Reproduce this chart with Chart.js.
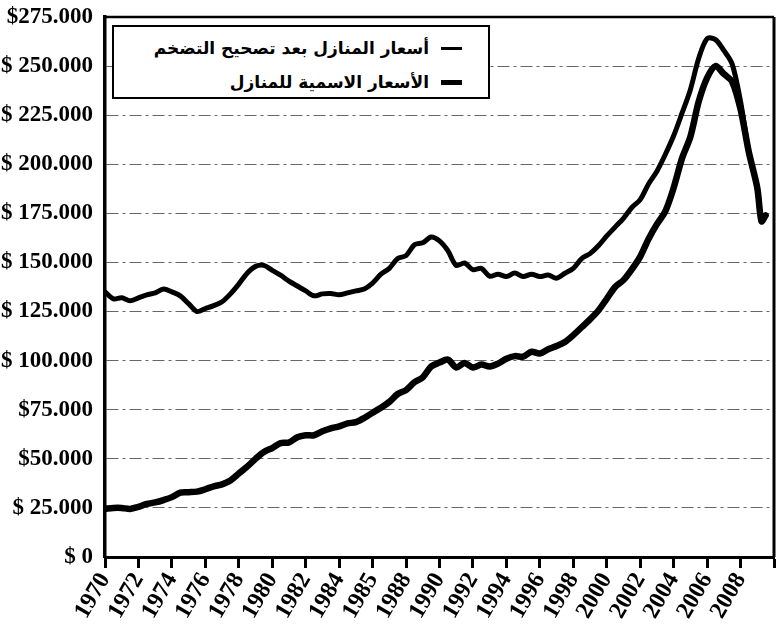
<!DOCTYPE html>
<html>
<head>
<meta charset="utf-8">
<script src="https://cdn.jsdelivr.net/npm/chart.js@4"></script>
<style>
	body { margin: 0; background: #fff; }
	#wrap { position: relative; width: 778px; height: 627px; }
	#legend {
		position: absolute; left: 112px; top: 25px; width: 374px; height: 70px;
		border: 2px solid #000; background: #fff; direction: rtl;
		font-family: "DejaVu Sans", sans-serif; font-weight: bold; font-size: 17px;
	}
	#legend .row { display: flex; align-items: center; height: 30px; margin-top: 4px; padding-right: 26px; }
	#legend .row:first-child { margin-top: 6px; }
	#legend .swatch { width: 21px; background: #000; margin-left: 12px; }
</style>
</head>
<body>
<div id="wrap">
	<canvas id="chart"></canvas>
	<div id="legend"></div>
</div>
<script>
// years (half-year steps, last point early 2009)
const years = [
	1970, 1970.5, 1971, 1971.5, 1972, 1972.5, 1973, 1973.5, 1974, 1974.5,
	1975, 1975.5, 1976, 1976.5, 1977, 1977.5, 1978, 1978.5, 1979, 1979.5,
	1980, 1980.5, 1981, 1981.5, 1982, 1982.5, 1983, 1983.5, 1984, 1984.5,
	1985, 1985.5, 1986, 1986.5, 1987, 1987.5, 1988, 1988.5, 1989, 1989.5,
	1990, 1990.5, 1991, 1991.5, 1992, 1992.5, 1993, 1993.5, 1994, 1994.5,
	1995, 1995.5, 1996, 1996.5, 1997, 1997.5, 1998, 1998.5, 1999, 1999.5,
	2000, 2000.5, 2001, 2001.5, 2002, 2002.5, 2003, 2003.5, 2004, 2004.5,
	2005, 2005.5, 2006, 2006.5, 2007, 2007.5, 2008, 2008.5, 2009, 2009.25, 2009.5
];

// inflation adjusted prices ($ thousands)
const realPrices = [
	135, 131.5, 132, 130.5, 132, 133.5, 134.5, 136.5, 135, 133,
	129, 125, 126.5, 128, 130, 134, 139, 144.5, 148, 148.5,
	146, 143.5, 140.5, 138, 135.5, 133, 134, 134.2, 133.5, 134.5,
	135.5, 136.5, 139.5, 144, 147, 152, 153.5, 159, 160, 163,
	161, 156, 148.5, 149.7, 146.3, 147, 143, 144, 142.8, 144.6,
	142.8, 144, 142.8, 143.6, 142, 144.5, 147, 152, 154.5, 158.5,
	163.5, 168, 172.5, 178, 182, 190, 196.5, 205, 214.5, 226,
	238, 254, 264, 263.5, 258, 251, 232, 206, 188, 171, 174
];

// nominal prices ($ thousands)
const nominalPrices = [
	24.5, 25, 25, 24.5, 25.5, 27, 27.8, 29, 30.5, 32.8,
	33, 33.3, 34.5, 36, 37, 39, 42.5, 46, 50, 53.5,
	55.5, 58, 58.3, 61, 62, 62, 64, 65.5, 66.5, 68,
	68.7, 70.8, 73.5, 76, 79, 83, 85, 89, 91.5, 97,
	99, 100.5, 96.5, 98.8, 96.5, 98, 97, 98.5, 101, 102.3,
	102, 104.5, 103.6, 105.8, 107.5, 109.5, 113, 117, 121, 125.5,
	131.5, 137.5, 141, 146.5, 153, 162, 169.5, 176, 188, 203,
	214, 232, 244, 250, 246, 242, 228, 206, 188, 171, 174
];

const seriesNames = ["أسعار المنازل بعد تصحيح التضخم", "الأسعار الاسمية للمنازل"];

const xTickLabels = ["1970", "1972", "1974", "1976", "1978", "1980", "1982", "1984", "1985", "1988",
	"1990", "1992", "1994", "1996", "1998", "2000", "2002", "2004", "2006", "2008", ""];
const yTickLabels = ["$ 0", "$ 25.000", "$50.000", "$75.000", "$ 100.000", "$ 125.000",
	"$ 150.000", "$ 175.000", "$ 200.000", "$ 225.000", "$ 250.000", "$275.000"];

const lineWidths = [5, 6.5];

function points(vals) {
	return vals.map((v, i) => ({ x: years[i], y: v }));
}

const boxPlugin = {
	id: "box",
	afterDraw(chart) {
		const a = chart.chartArea;
		const ctx = chart.ctx;
		ctx.save();
		ctx.strokeStyle = "#000";
		ctx.lineWidth = 2.5;
		ctx.beginPath();
		ctx.moveTo(a.left, a.top);
		ctx.lineTo(a.right, a.top);
		ctx.stroke();
		ctx.lineWidth = 3;
		ctx.beginPath();
		ctx.moveTo(a.right, a.top);
		ctx.lineTo(a.right, a.bottom);
		ctx.stroke();
		ctx.restore();
	}
};

const chart = new Chart(document.getElementById("chart"), {
	type: "line",
	data: {
		datasets: [
			{ label: seriesNames[0], data: points(realPrices), borderColor: "#000", borderWidth: lineWidths[0] },
			{ label: seriesNames[1], data: points(nominalPrices), borderColor: "#000", borderWidth: lineWidths[1] }
		]
	},
	options: {
		responsive: true,
		maintainAspectRatio: false,
		animation: false,
		layout: { padding: { top: 17, right: 4, bottom: 0, left: 0 } },
		elements: {
			point: { radius: 0 },
			line: { tension: 0.3, borderJoinStyle: "round", borderCapStyle: "round" }
		},
		plugins: { legend: { display: false }, tooltip: { enabled: false } },
		scales: {
			x: {
				type: "linear",
				min: 1970,
				max: 2010,
				afterFit(s) { s.height = 70; s.paddingRight = 0; },
				border: { color: "#000", width: 3 },
				grid: { drawOnChartArea: false, tickLength: 11, tickColor: "#000", tickWidth: 3 },
				ticks: {
					stepSize: 2,
					autoSkip: false,
					minRotation: 60,
					maxRotation: 60,
					padding: 0,
					color: "#000",
					font: { family: "Liberation Serif", weight: "bold", size: 24 },
					callback: (v) => xTickLabels[Math.round((v - 1970) / 2)]
				}
			},
			y: {
				min: 0,
				max: 275,
				afterFit(s) { s.width = 105; s.paddingTop = 0; s.paddingBottom = 0; },
				border: { color: "#000", width: 3.5, dash: [12, 4, 3, 4] },
				grid: { color: "#666", lineWidth: 1, drawTicks: false },
				ticks: {
					stepSize: 25,
					padding: 12,
					color: "#000",
					font: { family: "Liberation Serif", weight: "bold", size: 23 },
					callback: (v) => yTickLabels[Math.round(v / 25)]
				}
			}
		}
	},
	plugins: [boxPlugin]
});

// legend box drawn over the plot, built from the datasets
const legend = document.getElementById("legend");
chart.data.datasets.forEach((ds, i) => {
	const row = document.createElement("div");
	row.className = "row";
	const sw = document.createElement("span");
	sw.className = "swatch";
	sw.style.height = (i === 0 ? 3 : 5) + "px";
	const txt = document.createElement("span");
	txt.textContent = ds.label;
	row.appendChild(sw);
	row.appendChild(txt);
	legend.appendChild(row);
});
</script>
</body>
</html>
